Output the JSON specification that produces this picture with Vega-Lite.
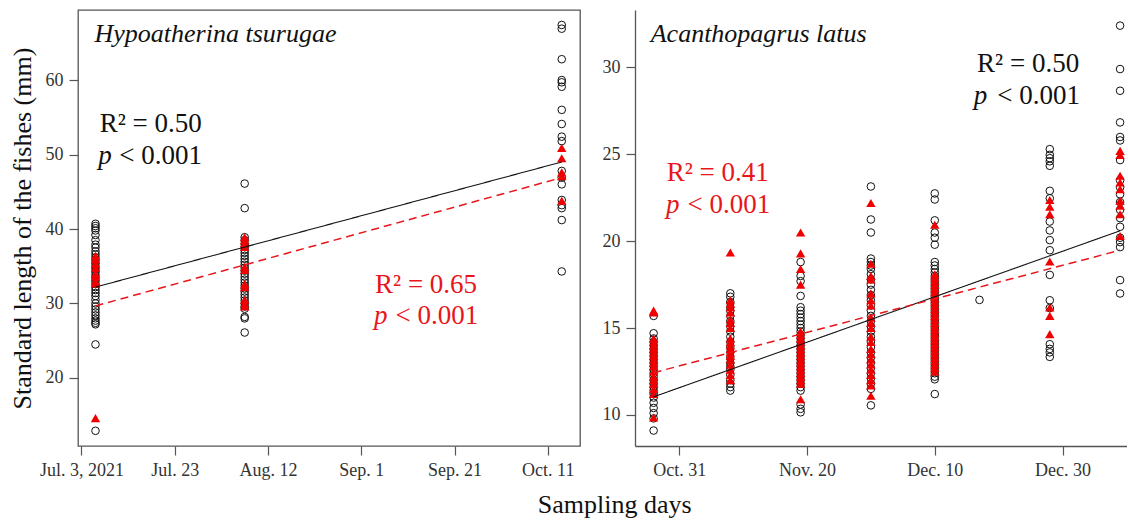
{
  "$schema": "https://vega.github.io/schema/vega-lite/v6.json",
  "background": "white",
  "padding": {"left": 8, "top": 9, "right": 0, "bottom": 0},
  "config": {
    "font": "Liberation Serif",
    "axis": {"grid": false, "labelFont": "Liberation Serif", "labelFontSize": 18, "labelColor": "#333333", "tickColor": "#555555", "tickSize": 9, "tickWidth": 1.2, "domainColor": "#555555", "domainWidth": 1.3, "labelPadding": 6, "titleFont": "Liberation Serif", "titleFontSize": 26, "titleFontWeight": "normal", "titleColor": "#111111"},
    "view": {"stroke": "#555555", "strokeWidth": 1.3}
  },
  "title": {"text": "Sampling days", "orient": "bottom", "anchor": "middle", "font": "Liberation Serif", "fontSize": 26, "fontWeight": "normal", "color": "#111111", "offset": 12, "dx": 47},
  "spacing": 55,
  "bounds": "flush",
  "resolve": {"scale": {"x": "independent", "y": "independent", "color": "shared"}},
  "hconcat": [
    {
      "width": 502,
      "height": 436,
      "encoding": {
        "x": {"field": "date", "type": "temporal", "title": null,
          "scale": {"domain": [{"year": 2021, "month": 7, "date": 2, "hours": 6}, {"year": 2021, "month": 10, "date": 17, "hours": 22}]},
          "axis": {"domain": false, "values": [{"year": 2021, "month": 7, "date": 3}, {"year": 2021, "month": 7, "date": 23}, {"year": 2021, "month": 8, "date": 12}, {"year": 2021, "month": 9, "date": 1}, {"year": 2021, "month": 9, "date": 21}, {"year": 2021, "month": 10, "date": 11}],
            "labelExpr": "datum.index == 0 ? timeFormat(datum.value, '%b. %-d, %Y') : timeFormat(datum.value, '%b. %-d')"}},
        "y": {"field": "length", "type": "quantitative", "title": "Standard length of the fishes (mm)",
          "scale": {"domain": [10.86, 69.41], "nice": false, "zero": false},
          "axis": {"domain": false, "values": [20, 30, 40, 50, 60], "titlePadding": 10}}
      },
      "layer": [
        {"data": {"name": "ptsH"}, "transform": [{"filter": "datum.group == 'all'"}],
          "mark": {"type": "point", "shape": "circle", "filled": false, "stroke": "#111111", "strokeWidth": 1, "size": 58, "opacity": 1}},
        {"data": {"name": "ptsH"}, "transform": [{"filter": "datum.group == 'subset'"}],
          "mark": {"type": "point", "shape": "triangle-up", "filled": true, "fill": "#f00000", "strokeWidth": 0, "size": 88, "opacity": 1}},
        {"data": {"name": "fitH"}, "mark": {"type": "line"},
          "encoding": {
            "color": {"field": "fit", "type": "nominal", "scale": {"domain": ["all", "subset"], "range": ["#111111", "#e8161b"]}, "legend": null},
            "strokeDash": {"field": "fit", "type": "nominal", "scale": {"domain": ["all", "subset"], "range": [[1, 0], [8, 5]]}, "legend": null},
            "strokeWidth": {"field": "fit", "type": "nominal", "scale": {"domain": ["all", "subset"], "range": [1.1, 1.5]}, "legend": null}}},
        {"data": {"name": "notesH"}, "transform": [{"filter": "datum.kind == 'species'"}],
          "mark": {"type": "text", "align": "left", "baseline": "alphabetic", "font": "Liberation Serif", "fontSize": 26, "fontStyle": "italic"},
          "encoding": {"text": {"field": "label"}, "color": {"field": "fit", "type": "nominal", "legend": null}}},
        {"data": {"name": "notesH"}, "transform": [{"filter": "datum.kind == 'stat'"}],
          "mark": {"type": "text", "align": "left", "baseline": "alphabetic", "font": "Liberation Serif", "fontSize": 27},
          "encoding": {"text": {"field": "label"}, "color": {"field": "fit", "type": "nominal", "legend": null}}},
        {"data": {"name": "notesH"}, "transform": [{"filter": "datum.kind == 'p'"}],
          "mark": {"type": "text", "align": "left", "baseline": "alphabetic", "font": "Liberation Serif", "fontSize": 27, "fontStyle": "italic"},
          "encoding": {"text": {"field": "label"}, "color": {"field": "fit", "type": "nominal", "legend": null}}}
      ]
    },
    {
      "width": 492,
      "height": 436,
      "view": {"stroke": null},
      "encoding": {
        "x": {"field": "date", "type": "temporal", "title": null,
          "scale": {"domain": [{"year": 2021, "month": 10, "date": 24, "hours": 2}, {"year": 2022, "month": 1, "date": 9, "hours": 2}]},
          "axis": {"domain": true, "values": [{"year": 2021, "month": 10, "date": 31}, {"year": 2021, "month": 11, "date": 20}, {"year": 2021, "month": 12, "date": 10}, {"year": 2021, "month": 12, "date": 30}],
            "labelExpr": "timeFormat(datum.value, '%b. %-d')"}},
        "y": {"field": "length", "type": "quantitative", "title": null,
          "scale": {"domain": [8.21, 33.31], "nice": false, "zero": false},
          "axis": {"domain": true, "values": [10, 15, 20, 25, 30]}}
      },
      "layer": [
        {"data": {"values": [{}]}, "mark": {"type": "rule", "color": "#555555", "strokeWidth": 1.3},
          "encoding": {
            "x": {"datum": {"year": 2021, "month": 10, "date": 24, "hours": 2}, "type": "temporal"},
            "x2": {"datum": {"year": 2022, "month": 1, "date": 9, "hours": 2}},
            "y": {"datum": 33.31, "type": "quantitative"}}},
        {"data": {"name": "ptsA"}, "transform": [{"filter": "datum.group == 'all'"}],
          "mark": {"type": "point", "shape": "circle", "filled": false, "stroke": "#111111", "strokeWidth": 1, "size": 58, "opacity": 1}},
        {"data": {"name": "ptsA"}, "transform": [{"filter": "datum.group == 'subset'"}],
          "mark": {"type": "point", "shape": "triangle-up", "filled": true, "fill": "#f00000", "strokeWidth": 0, "size": 88, "opacity": 1}},
        {"data": {"name": "fitA"}, "mark": {"type": "line"},
          "encoding": {
            "color": {"field": "fit", "type": "nominal", "scale": {"domain": ["all", "subset"], "range": ["#111111", "#e8161b"]}, "legend": null},
            "strokeDash": {"field": "fit", "type": "nominal", "scale": {"domain": ["all", "subset"], "range": [[1, 0], [8, 5]]}, "legend": null},
            "strokeWidth": {"field": "fit", "type": "nominal", "scale": {"domain": ["all", "subset"], "range": [1.1, 1.5]}, "legend": null}}},
        {"data": {"name": "notesA"}, "transform": [{"filter": "datum.kind == 'species'"}],
          "mark": {"type": "text", "align": "left", "baseline": "alphabetic", "font": "Liberation Serif", "fontSize": 26, "fontStyle": "italic"},
          "encoding": {"text": {"field": "label"}, "color": {"field": "fit", "type": "nominal", "legend": null}}},
        {"data": {"name": "notesA"}, "transform": [{"filter": "datum.kind == 'stat'"}],
          "mark": {"type": "text", "align": "left", "baseline": "alphabetic", "font": "Liberation Serif", "fontSize": 27},
          "encoding": {"text": {"field": "label"}, "color": {"field": "fit", "type": "nominal", "legend": null}}},
        {"data": {"name": "notesA"}, "transform": [{"filter": "datum.kind == 'p'"}],
          "mark": {"type": "text", "align": "left", "baseline": "alphabetic", "font": "Liberation Serif", "fontSize": 27, "fontStyle": "italic"},
          "encoding": {"text": {"field": "label"}, "color": {"field": "fit", "type": "nominal", "legend": null}}}
      ]
    }
  ],
  "datasets": {
    "fitH": [
      {"date": "2021/07/06", "length": 32.2, "fit": "all"},
      {"date": "2021/10/14", "length": 49.0, "fit": "all"},
      {"date": "2021/07/06", "length": 29.67, "fit": "subset"},
      {"date": "2021/10/14", "length": 46.9, "fit": "subset"}
    ],
    "fitA": [
      {"date": "2021/10/27", "length": 11.04, "fit": "all"},
      {"date": "2022/01/08", "length": 20.6, "fit": "all"},
      {"date": "2021/10/27", "length": 12.43, "fit": "subset"},
      {"date": "2022/01/08", "length": 19.48, "fit": "subset"}
    ],
    "notesH": [
      {"date": "2021/07/05 19:00", "length": 65.06, "label": "Hypoatherina tsurugae", "kind": "species", "fit": "all"},
      {"date": "2021/07/06 22:00", "length": 52.96, "label": "R² = 0.50", "kind": "stat", "fit": "all"},
      {"date": "2021/07/06 14:00", "length": 48.75, "label": "p", "kind": "p", "fit": "all"},
      {"date": "2021/07/11 02:00", "length": 48.75, "label": "< 0.001", "kind": "stat", "fit": "all"},
      {"date": "2021/09/03 23:00", "length": 31.45, "label": "R² = 0.65", "kind": "stat", "fit": "subset"},
      {"date": "2021/09/03 17:00", "length": 27.25, "label": "p", "kind": "p", "fit": "subset"},
      {"date": "2021/09/08 08:00", "length": 27.25, "label": "< 0.001", "kind": "stat", "fit": "subset"}
    ],
    "notesA": [
      {"date": "2021/10/26 13:00", "length": 31.44, "label": "Acanthopagrus latus", "kind": "species", "fit": "all"},
      {"date": "2021/12/16 15:00", "length": 29.72, "label": "R² = 0.50", "kind": "stat", "fit": "all"},
      {"date": "2021/12/16 02:00", "length": 27.91, "label": "p", "kind": "p", "fit": "all"},
      {"date": "2021/12/19 19:00", "length": 27.91, "label": "< 0.001", "kind": "stat", "fit": "all"},
      {"date": "2021/10/29 01:00", "length": 23.48, "label": "R² = 0.41", "kind": "stat", "fit": "subset"},
      {"date": "2021/10/28 22:00", "length": 21.65, "label": "p", "kind": "p", "fit": "subset"},
      {"date": "2021/11/01 07:00", "length": 21.65, "label": "< 0.001", "kind": "stat", "fit": "subset"}
    ],
    "ptsH": [
      {"date": "2021/07/06", "length": 40.7, "group": "all"}, {"date": "2021/07/06", "length": 40.4, "group": "all"}, {"date": "2021/07/06", "length": 40.1, "group": "all"}, {"date": "2021/07/06", "length": 39.8, "group": "all"}, {"date": "2021/07/06", "length": 39.2, "group": "all"}, {"date": "2021/07/06", "length": 38.5, "group": "all"}, {"date": "2021/07/06", "length": 37.9, "group": "all"}, {"date": "2021/07/06", "length": 37.5, "group": "all"}, {"date": "2021/07/06", "length": 37.0, "group": "all"}, {"date": "2021/07/06", "length": 36.6, "group": "all"}, {"date": "2021/07/06", "length": 36.2, "group": "all"}, {"date": "2021/07/06", "length": 35.8, "group": "all"}, {"date": "2021/07/06", "length": 35.4, "group": "all"}, {"date": "2021/07/06", "length": 35.0, "group": "all"}, {"date": "2021/07/06", "length": 34.6, "group": "all"}, {"date": "2021/07/06", "length": 34.2, "group": "all"}, {"date": "2021/07/06", "length": 33.8, "group": "all"}, {"date": "2021/07/06", "length": 33.4, "group": "all"}, {"date": "2021/07/06", "length": 33.0, "group": "all"}, {"date": "2021/07/06", "length": 32.6, "group": "all"}, {"date": "2021/07/06", "length": 32.2, "group": "all"}, {"date": "2021/07/06", "length": 31.8, "group": "all"}, {"date": "2021/07/06", "length": 31.4, "group": "all"}, {"date": "2021/07/06", "length": 31.0, "group": "all"}, {"date": "2021/07/06", "length": 30.5, "group": "all"}, {"date": "2021/07/06", "length": 30.0, "group": "all"}, {"date": "2021/07/06", "length": 29.6, "group": "all"}, {"date": "2021/07/06", "length": 29.2, "group": "all"}, {"date": "2021/07/06", "length": 28.8, "group": "all"}, {"date": "2021/07/06", "length": 28.4, "group": "all"}, {"date": "2021/07/06", "length": 28.0, "group": "all"}, {"date": "2021/07/06", "length": 27.7, "group": "all"}, {"date": "2021/07/06", "length": 27.4, "group": "all"}, {"date": "2021/07/06", "length": 27.2, "group": "all"}, {"date": "2021/07/06", "length": 24.5, "group": "all"}, {"date": "2021/07/06", "length": 12.9, "group": "all"},
      {"date": "2021/07/06", "length": 36.4, "group": "subset"}, {"date": "2021/07/06", "length": 35.9, "group": "subset"}, {"date": "2021/07/06", "length": 35.3, "group": "subset"}, {"date": "2021/07/06", "length": 34.8, "group": "subset"}, {"date": "2021/07/06", "length": 34.0, "group": "subset"}, {"date": "2021/07/06", "length": 33.6, "group": "subset"}, {"date": "2021/07/06", "length": 33.0, "group": "subset"}, {"date": "2021/07/06", "length": 32.7, "group": "subset"}, {"date": "2021/07/06", "length": 14.6, "group": "subset"},
      {"date": "2021/08/07", "length": 46.1, "group": "all"}, {"date": "2021/08/07", "length": 42.8, "group": "all"}, {"date": "2021/08/07", "length": 38.9, "group": "all"}, {"date": "2021/08/07", "length": 38.5, "group": "all"}, {"date": "2021/08/07", "length": 38.0, "group": "all"}, {"date": "2021/08/07", "length": 37.6, "group": "all"}, {"date": "2021/08/07", "length": 37.2, "group": "all"}, {"date": "2021/08/07", "length": 36.8, "group": "all"}, {"date": "2021/08/07", "length": 36.4, "group": "all"}, {"date": "2021/08/07", "length": 36.0, "group": "all"}, {"date": "2021/08/07", "length": 35.6, "group": "all"}, {"date": "2021/08/07", "length": 35.2, "group": "all"}, {"date": "2021/08/07", "length": 34.8, "group": "all"}, {"date": "2021/08/07", "length": 34.4, "group": "all"}, {"date": "2021/08/07", "length": 34.0, "group": "all"}, {"date": "2021/08/07", "length": 33.6, "group": "all"}, {"date": "2021/08/07", "length": 33.2, "group": "all"}, {"date": "2021/08/07", "length": 32.8, "group": "all"}, {"date": "2021/08/07", "length": 32.4, "group": "all"}, {"date": "2021/08/07", "length": 32.0, "group": "all"}, {"date": "2021/08/07", "length": 31.6, "group": "all"}, {"date": "2021/08/07", "length": 31.2, "group": "all"}, {"date": "2021/08/07", "length": 30.8, "group": "all"}, {"date": "2021/08/07", "length": 30.4, "group": "all"}, {"date": "2021/08/07", "length": 30.0, "group": "all"}, {"date": "2021/08/07", "length": 29.6, "group": "all"}, {"date": "2021/08/07", "length": 29.3, "group": "all"}, {"date": "2021/08/07", "length": 28.2, "group": "all"}, {"date": "2021/08/07", "length": 28.0, "group": "all"}, {"date": "2021/08/07", "length": 26.1, "group": "all"},
      {"date": "2021/08/07", "length": 38.9, "group": "subset"}, {"date": "2021/08/07", "length": 38.5, "group": "subset"}, {"date": "2021/08/07", "length": 38.1, "group": "subset"}, {"date": "2021/08/07", "length": 37.6, "group": "subset"}, {"date": "2021/08/07", "length": 34.9, "group": "subset"}, {"date": "2021/08/07", "length": 34.5, "group": "subset"}, {"date": "2021/08/07", "length": 32.6, "group": "subset"}, {"date": "2021/08/07", "length": 32.2, "group": "subset"}, {"date": "2021/08/07", "length": 30.5, "group": "subset"}, {"date": "2021/08/07", "length": 30.0, "group": "subset"}, {"date": "2021/08/07", "length": 29.6, "group": "subset"},
      {"date": "2021/10/14", "length": 67.4, "group": "all"}, {"date": "2021/10/14", "length": 66.9, "group": "all"}, {"date": "2021/10/14", "length": 62.8, "group": "all"}, {"date": "2021/10/14", "length": 60.0, "group": "all"}, {"date": "2021/10/14", "length": 59.7, "group": "all"}, {"date": "2021/10/14", "length": 59.1, "group": "all"}, {"date": "2021/10/14", "length": 56.0, "group": "all"}, {"date": "2021/10/14", "length": 54.1, "group": "all"}, {"date": "2021/10/14", "length": 52.4, "group": "all"}, {"date": "2021/10/14", "length": 51.8, "group": "all"}, {"date": "2021/10/14", "length": 47.8, "group": "all"}, {"date": "2021/10/14", "length": 46.9, "group": "all"}, {"date": "2021/10/14", "length": 46.0, "group": "all"}, {"date": "2021/10/14", "length": 43.9, "group": "all"}, {"date": "2021/10/14", "length": 43.2, "group": "all"}, {"date": "2021/10/14", "length": 42.8, "group": "all"}, {"date": "2021/10/14", "length": 41.2, "group": "all"}, {"date": "2021/10/14", "length": 34.3, "group": "all"},
      {"date": "2021/10/14", "length": 50.9, "group": "subset"}, {"date": "2021/10/14", "length": 49.5, "group": "subset"}, {"date": "2021/10/14", "length": 47.6, "group": "subset"}, {"date": "2021/10/14", "length": 47.1, "group": "subset"}, {"date": "2021/10/14", "length": 43.8, "group": "subset"}
    ],
    "ptsA": [
      {"date": "2021/10/27", "length": 15.7, "group": "all"}, {"date": "2021/10/27", "length": 14.7, "group": "all"}, {"date": "2021/10/27", "length": 14.4, "group": "all"}, {"date": "2021/10/27", "length": 14.2, "group": "all"}, {"date": "2021/10/27", "length": 14.0, "group": "all"}, {"date": "2021/10/27", "length": 13.8, "group": "all"}, {"date": "2021/10/27", "length": 13.6, "group": "all"}, {"date": "2021/10/27", "length": 13.4, "group": "all"}, {"date": "2021/10/27", "length": 13.2, "group": "all"}, {"date": "2021/10/27", "length": 13.0, "group": "all"}, {"date": "2021/10/27", "length": 12.8, "group": "all"}, {"date": "2021/10/27", "length": 12.6, "group": "all"}, {"date": "2021/10/27", "length": 12.4, "group": "all"}, {"date": "2021/10/27", "length": 12.2, "group": "all"}, {"date": "2021/10/27", "length": 12.0, "group": "all"}, {"date": "2021/10/27", "length": 11.8, "group": "all"}, {"date": "2021/10/27", "length": 11.6, "group": "all"}, {"date": "2021/10/27", "length": 11.4, "group": "all"}, {"date": "2021/10/27", "length": 11.2, "group": "all"}, {"date": "2021/10/27", "length": 11.0, "group": "all"}, {"date": "2021/10/27", "length": 10.7, "group": "all"}, {"date": "2021/10/27", "length": 10.4, "group": "all"}, {"date": "2021/10/27", "length": 10.1, "group": "all"}, {"date": "2021/10/27", "length": 9.8, "group": "all"}, {"date": "2021/10/27", "length": 9.1, "group": "all"},
      {"date": "2021/10/27", "length": 16.0, "group": "subset"}, {"date": "2021/10/27", "length": 15.9, "group": "subset"}, {"date": "2021/10/27", "length": 14.4, "group": "subset"}, {"date": "2021/10/27", "length": 14.2, "group": "subset"}, {"date": "2021/10/27", "length": 14.0, "group": "subset"}, {"date": "2021/10/27", "length": 13.8, "group": "subset"}, {"date": "2021/10/27", "length": 13.6, "group": "subset"}, {"date": "2021/10/27", "length": 13.4, "group": "subset"}, {"date": "2021/10/27", "length": 13.2, "group": "subset"}, {"date": "2021/10/27", "length": 13.0, "group": "subset"}, {"date": "2021/10/27", "length": 12.8, "group": "subset"}, {"date": "2021/10/27", "length": 12.5, "group": "subset"}, {"date": "2021/10/27", "length": 12.2, "group": "subset"}, {"date": "2021/10/27", "length": 12.0, "group": "subset"}, {"date": "2021/10/27", "length": 11.8, "group": "subset"}, {"date": "2021/10/27", "length": 11.5, "group": "subset"}, {"date": "2021/10/27", "length": 11.2, "group": "subset"}, {"date": "2021/10/27", "length": 9.85, "group": "subset"},
      {"date": "2021/11/08", "length": 17.0, "group": "all"}, {"date": "2021/11/08", "length": 16.8, "group": "all"}, {"date": "2021/11/08", "length": 16.5, "group": "all"}, {"date": "2021/11/08", "length": 16.2, "group": "all"}, {"date": "2021/11/08", "length": 16.0, "group": "all"}, {"date": "2021/11/08", "length": 15.7, "group": "all"}, {"date": "2021/11/08", "length": 15.4, "group": "all"}, {"date": "2021/11/08", "length": 15.1, "group": "all"}, {"date": "2021/11/08", "length": 14.8, "group": "all"}, {"date": "2021/11/08", "length": 14.5, "group": "all"}, {"date": "2021/11/08", "length": 14.2, "group": "all"}, {"date": "2021/11/08", "length": 13.9, "group": "all"}, {"date": "2021/11/08", "length": 13.6, "group": "all"}, {"date": "2021/11/08", "length": 13.3, "group": "all"}, {"date": "2021/11/08", "length": 13.0, "group": "all"}, {"date": "2021/11/08", "length": 12.8, "group": "all"}, {"date": "2021/11/08", "length": 12.6, "group": "all"}, {"date": "2021/11/08", "length": 12.3, "group": "all"}, {"date": "2021/11/08", "length": 12.0, "group": "all"}, {"date": "2021/11/08", "length": 11.8, "group": "all"}, {"date": "2021/11/08", "length": 11.6, "group": "all"}, {"date": "2021/11/08", "length": 11.4, "group": "all"},
      {"date": "2021/11/08", "length": 19.35, "group": "subset"}, {"date": "2021/11/08", "length": 16.6, "group": "subset"}, {"date": "2021/11/08", "length": 16.4, "group": "subset"}, {"date": "2021/11/08", "length": 16.2, "group": "subset"}, {"date": "2021/11/08", "length": 15.9, "group": "subset"}, {"date": "2021/11/08", "length": 15.5, "group": "subset"}, {"date": "2021/11/08", "length": 15.3, "group": "subset"}, {"date": "2021/11/08", "length": 15.0, "group": "subset"}, {"date": "2021/11/08", "length": 14.4, "group": "subset"}, {"date": "2021/11/08", "length": 14.2, "group": "subset"}, {"date": "2021/11/08", "length": 14.0, "group": "subset"}, {"date": "2021/11/08", "length": 13.8, "group": "subset"}, {"date": "2021/11/08", "length": 13.6, "group": "subset"}, {"date": "2021/11/08", "length": 13.4, "group": "subset"}, {"date": "2021/11/08", "length": 13.2, "group": "subset"}, {"date": "2021/11/08", "length": 12.9, "group": "subset"}, {"date": "2021/11/08", "length": 12.6, "group": "subset"}, {"date": "2021/11/08", "length": 12.3, "group": "subset"}, {"date": "2021/11/08", "length": 12.0, "group": "subset"},
      {"date": "2021/11/19", "length": 18.8, "group": "all"}, {"date": "2021/11/19", "length": 18.0, "group": "all"}, {"date": "2021/11/19", "length": 17.7, "group": "all"}, {"date": "2021/11/19", "length": 16.85, "group": "all"}, {"date": "2021/11/19", "length": 16.2, "group": "all"}, {"date": "2021/11/19", "length": 16.0, "group": "all"}, {"date": "2021/11/19", "length": 15.8, "group": "all"}, {"date": "2021/11/19", "length": 15.6, "group": "all"}, {"date": "2021/11/19", "length": 15.4, "group": "all"}, {"date": "2021/11/19", "length": 15.2, "group": "all"}, {"date": "2021/11/19", "length": 15.0, "group": "all"}, {"date": "2021/11/19", "length": 14.8, "group": "all"}, {"date": "2021/11/19", "length": 14.6, "group": "all"}, {"date": "2021/11/19", "length": 14.4, "group": "all"}, {"date": "2021/11/19", "length": 14.2, "group": "all"}, {"date": "2021/11/19", "length": 14.0, "group": "all"}, {"date": "2021/11/19", "length": 13.8, "group": "all"}, {"date": "2021/11/19", "length": 13.6, "group": "all"}, {"date": "2021/11/19", "length": 13.4, "group": "all"}, {"date": "2021/11/19", "length": 13.2, "group": "all"}, {"date": "2021/11/19", "length": 13.0, "group": "all"}, {"date": "2021/11/19", "length": 12.8, "group": "all"}, {"date": "2021/11/19", "length": 12.6, "group": "all"}, {"date": "2021/11/19", "length": 12.4, "group": "all"}, {"date": "2021/11/19", "length": 12.2, "group": "all"}, {"date": "2021/11/19", "length": 12.0, "group": "all"}, {"date": "2021/11/19", "length": 11.8, "group": "all"}, {"date": "2021/11/19", "length": 11.6, "group": "all"}, {"date": "2021/11/19", "length": 11.4, "group": "all"}, {"date": "2021/11/19", "length": 10.6, "group": "all"}, {"date": "2021/11/19", "length": 10.35, "group": "all"}, {"date": "2021/11/19", "length": 10.15, "group": "all"},
      {"date": "2021/11/19", "length": 20.5, "group": "subset"}, {"date": "2021/11/19", "length": 19.3, "group": "subset"}, {"date": "2021/11/19", "length": 18.4, "group": "subset"}, {"date": "2021/11/19", "length": 17.5, "group": "subset"}, {"date": "2021/11/19", "length": 14.8, "group": "subset"}, {"date": "2021/11/19", "length": 14.6, "group": "subset"}, {"date": "2021/11/19", "length": 14.4, "group": "subset"}, {"date": "2021/11/19", "length": 14.2, "group": "subset"}, {"date": "2021/11/19", "length": 14.0, "group": "subset"}, {"date": "2021/11/19", "length": 13.8, "group": "subset"}, {"date": "2021/11/19", "length": 13.6, "group": "subset"}, {"date": "2021/11/19", "length": 13.4, "group": "subset"}, {"date": "2021/11/19", "length": 13.2, "group": "subset"}, {"date": "2021/11/19", "length": 13.0, "group": "subset"}, {"date": "2021/11/19", "length": 12.8, "group": "subset"}, {"date": "2021/11/19", "length": 12.6, "group": "subset"}, {"date": "2021/11/19", "length": 12.4, "group": "subset"}, {"date": "2021/11/19", "length": 12.2, "group": "subset"}, {"date": "2021/11/19", "length": 12.0, "group": "subset"}, {"date": "2021/11/19", "length": 11.8, "group": "subset"}, {"date": "2021/11/19", "length": 10.9, "group": "subset"},
      {"date": "2021/11/30", "length": 23.15, "group": "all"}, {"date": "2021/11/30", "length": 21.25, "group": "all"}, {"date": "2021/11/30", "length": 20.5, "group": "all"}, {"date": "2021/11/30", "length": 19.0, "group": "all"}, {"date": "2021/11/30", "length": 18.8, "group": "all"}, {"date": "2021/11/30", "length": 18.6, "group": "all"}, {"date": "2021/11/30", "length": 18.4, "group": "all"}, {"date": "2021/11/30", "length": 18.1, "group": "all"}, {"date": "2021/11/30", "length": 17.8, "group": "all"}, {"date": "2021/11/30", "length": 17.5, "group": "all"}, {"date": "2021/11/30", "length": 17.2, "group": "all"}, {"date": "2021/11/30", "length": 16.9, "group": "all"}, {"date": "2021/11/30", "length": 16.6, "group": "all"}, {"date": "2021/11/30", "length": 16.3, "group": "all"}, {"date": "2021/11/30", "length": 16.0, "group": "all"}, {"date": "2021/11/30", "length": 15.7, "group": "all"}, {"date": "2021/11/30", "length": 15.4, "group": "all"}, {"date": "2021/11/30", "length": 15.1, "group": "all"}, {"date": "2021/11/30", "length": 14.8, "group": "all"}, {"date": "2021/11/30", "length": 14.5, "group": "all"}, {"date": "2021/11/30", "length": 14.2, "group": "all"}, {"date": "2021/11/30", "length": 13.9, "group": "all"}, {"date": "2021/11/30", "length": 13.6, "group": "all"}, {"date": "2021/11/30", "length": 13.3, "group": "all"}, {"date": "2021/11/30", "length": 13.0, "group": "all"}, {"date": "2021/11/30", "length": 12.7, "group": "all"}, {"date": "2021/11/30", "length": 12.4, "group": "all"}, {"date": "2021/11/30", "length": 12.1, "group": "all"}, {"date": "2021/11/30", "length": 11.8, "group": "all"}, {"date": "2021/11/30", "length": 11.5, "group": "all"}, {"date": "2021/11/30", "length": 10.55, "group": "all"},
      {"date": "2021/11/30", "length": 22.2, "group": "subset"}, {"date": "2021/11/30", "length": 18.7, "group": "subset"}, {"date": "2021/11/30", "length": 18.0, "group": "subset"}, {"date": "2021/11/30", "length": 17.8, "group": "subset"}, {"date": "2021/11/30", "length": 17.0, "group": "subset"}, {"date": "2021/11/30", "length": 16.6, "group": "subset"}, {"date": "2021/11/30", "length": 16.3, "group": "subset"}, {"date": "2021/11/30", "length": 15.6, "group": "subset"}, {"date": "2021/11/30", "length": 15.3, "group": "subset"}, {"date": "2021/11/30", "length": 15.0, "group": "subset"}, {"date": "2021/11/30", "length": 14.5, "group": "subset"}, {"date": "2021/11/30", "length": 14.2, "group": "subset"}, {"date": "2021/11/30", "length": 13.8, "group": "subset"}, {"date": "2021/11/30", "length": 13.5, "group": "subset"}, {"date": "2021/11/30", "length": 13.2, "group": "subset"}, {"date": "2021/11/30", "length": 12.9, "group": "subset"}, {"date": "2021/11/30", "length": 12.6, "group": "subset"}, {"date": "2021/11/30", "length": 12.3, "group": "subset"}, {"date": "2021/11/30", "length": 12.0, "group": "subset"}, {"date": "2021/11/30", "length": 11.7, "group": "subset"}, {"date": "2021/11/30", "length": 11.1, "group": "subset"},
      {"date": "2021/12/10", "length": 22.75, "group": "all"}, {"date": "2021/12/10", "length": 22.4, "group": "all"}, {"date": "2021/12/10", "length": 21.2, "group": "all"}, {"date": "2021/12/10", "length": 20.5, "group": "all"}, {"date": "2021/12/10", "length": 20.2, "group": "all"}, {"date": "2021/12/10", "length": 19.8, "group": "all"}, {"date": "2021/12/10", "length": 18.8, "group": "all"}, {"date": "2021/12/10", "length": 18.6, "group": "all"}, {"date": "2021/12/10", "length": 18.4, "group": "all"}, {"date": "2021/12/10", "length": 18.2, "group": "all"}, {"date": "2021/12/10", "length": 18.0, "group": "all"}, {"date": "2021/12/10", "length": 17.8, "group": "all"}, {"date": "2021/12/10", "length": 17.6, "group": "all"}, {"date": "2021/12/10", "length": 17.4, "group": "all"}, {"date": "2021/12/10", "length": 17.2, "group": "all"}, {"date": "2021/12/10", "length": 17.0, "group": "all"}, {"date": "2021/12/10", "length": 16.8, "group": "all"}, {"date": "2021/12/10", "length": 16.6, "group": "all"}, {"date": "2021/12/10", "length": 16.4, "group": "all"}, {"date": "2021/12/10", "length": 16.2, "group": "all"}, {"date": "2021/12/10", "length": 16.0, "group": "all"}, {"date": "2021/12/10", "length": 15.8, "group": "all"}, {"date": "2021/12/10", "length": 15.6, "group": "all"}, {"date": "2021/12/10", "length": 15.4, "group": "all"}, {"date": "2021/12/10", "length": 15.2, "group": "all"}, {"date": "2021/12/10", "length": 15.0, "group": "all"}, {"date": "2021/12/10", "length": 14.8, "group": "all"}, {"date": "2021/12/10", "length": 14.6, "group": "all"}, {"date": "2021/12/10", "length": 14.4, "group": "all"}, {"date": "2021/12/10", "length": 14.2, "group": "all"}, {"date": "2021/12/10", "length": 14.0, "group": "all"}, {"date": "2021/12/10", "length": 13.8, "group": "all"}, {"date": "2021/12/10", "length": 13.6, "group": "all"}, {"date": "2021/12/10", "length": 13.4, "group": "all"}, {"date": "2021/12/10", "length": 13.2, "group": "all"}, {"date": "2021/12/10", "length": 13.0, "group": "all"}, {"date": "2021/12/10", "length": 12.8, "group": "all"}, {"date": "2021/12/10", "length": 12.6, "group": "all"}, {"date": "2021/12/10", "length": 12.4, "group": "all"}, {"date": "2021/12/10", "length": 12.2, "group": "all"}, {"date": "2021/12/10", "length": 12.05, "group": "all"}, {"date": "2021/12/10", "length": 11.2, "group": "all"},
      {"date": "2021/12/10", "length": 20.95, "group": "subset"}, {"date": "2021/12/10", "length": 18.1, "group": "subset"}, {"date": "2021/12/10", "length": 17.9, "group": "subset"}, {"date": "2021/12/10", "length": 17.7, "group": "subset"}, {"date": "2021/12/10", "length": 17.5, "group": "subset"}, {"date": "2021/12/10", "length": 17.3, "group": "subset"}, {"date": "2021/12/10", "length": 17.1, "group": "subset"}, {"date": "2021/12/10", "length": 16.9, "group": "subset"}, {"date": "2021/12/10", "length": 16.7, "group": "subset"}, {"date": "2021/12/10", "length": 16.5, "group": "subset"}, {"date": "2021/12/10", "length": 16.3, "group": "subset"}, {"date": "2021/12/10", "length": 16.1, "group": "subset"}, {"date": "2021/12/10", "length": 15.9, "group": "subset"}, {"date": "2021/12/10", "length": 15.7, "group": "subset"}, {"date": "2021/12/10", "length": 15.5, "group": "subset"}, {"date": "2021/12/10", "length": 15.3, "group": "subset"}, {"date": "2021/12/10", "length": 15.1, "group": "subset"}, {"date": "2021/12/10", "length": 14.9, "group": "subset"}, {"date": "2021/12/10", "length": 14.7, "group": "subset"}, {"date": "2021/12/10", "length": 14.5, "group": "subset"}, {"date": "2021/12/10", "length": 14.3, "group": "subset"}, {"date": "2021/12/10", "length": 14.1, "group": "subset"}, {"date": "2021/12/10", "length": 13.9, "group": "subset"}, {"date": "2021/12/10", "length": 13.7, "group": "subset"}, {"date": "2021/12/10", "length": 13.5, "group": "subset"}, {"date": "2021/12/10", "length": 13.3, "group": "subset"}, {"date": "2021/12/10", "length": 13.1, "group": "subset"}, {"date": "2021/12/10", "length": 12.9, "group": "subset"}, {"date": "2021/12/10", "length": 12.7, "group": "subset"}, {"date": "2021/12/10", "length": 12.5, "group": "subset"},
      {"date": "2021/12/17", "length": 16.62, "group": "all"},
      {"date": "2021/12/28", "length": 25.3, "group": "all"}, {"date": "2021/12/28", "length": 24.97, "group": "all"}, {"date": "2021/12/28", "length": 24.78, "group": "all"}, {"date": "2021/12/28", "length": 24.6, "group": "all"}, {"date": "2021/12/28", "length": 24.34, "group": "all"}, {"date": "2021/12/28", "length": 22.9, "group": "all"}, {"date": "2021/12/28", "length": 22.47, "group": "all"}, {"date": "2021/12/28", "length": 21.13, "group": "all"}, {"date": "2021/12/28", "length": 20.62, "group": "all"}, {"date": "2021/12/28", "length": 20.06, "group": "all"}, {"date": "2021/12/28", "length": 19.48, "group": "all"}, {"date": "2021/12/28", "length": 18.06, "group": "all"}, {"date": "2021/12/28", "length": 16.6, "group": "all"}, {"date": "2021/12/28", "length": 16.15, "group": "all"}, {"date": "2021/12/28", "length": 14.07, "group": "all"}, {"date": "2021/12/28", "length": 13.8, "group": "all"}, {"date": "2021/12/28", "length": 13.6, "group": "all"}, {"date": "2021/12/28", "length": 13.34, "group": "all"},
      {"date": "2021/12/28", "length": 22.37, "group": "subset"}, {"date": "2021/12/28", "length": 21.98, "group": "subset"}, {"date": "2021/12/28", "length": 21.55, "group": "subset"}, {"date": "2021/12/28", "length": 18.83, "group": "subset"}, {"date": "2021/12/28", "length": 16.18, "group": "subset"}, {"date": "2021/12/28", "length": 15.7, "group": "subset"}, {"date": "2021/12/28", "length": 14.65, "group": "subset"},
      {"date": "2022/01/08", "length": 32.41, "group": "all"}, {"date": "2022/01/08", "length": 29.91, "group": "all"}, {"date": "2022/01/08", "length": 28.66, "group": "all"}, {"date": "2022/01/08", "length": 26.84, "group": "all"}, {"date": "2022/01/08", "length": 26.0, "group": "all"}, {"date": "2022/01/08", "length": 25.8, "group": "all"}, {"date": "2022/01/08", "length": 24.67, "group": "all"}, {"date": "2022/01/08", "length": 23.5, "group": "all"}, {"date": "2022/01/08", "length": 23.1, "group": "all"}, {"date": "2022/01/08", "length": 22.7, "group": "all"}, {"date": "2022/01/08", "length": 22.25, "group": "all"}, {"date": "2022/01/08", "length": 21.8, "group": "all"}, {"date": "2022/01/08", "length": 21.33, "group": "all"}, {"date": "2022/01/08", "length": 20.83, "group": "all"}, {"date": "2022/01/08", "length": 20.2, "group": "all"}, {"date": "2022/01/08", "length": 19.95, "group": "all"}, {"date": "2022/01/08", "length": 19.66, "group": "all"}, {"date": "2022/01/08", "length": 17.76, "group": "all"}, {"date": "2022/01/08", "length": 16.99, "group": "all"},
      {"date": "2022/01/08", "length": 25.2, "group": "subset"}, {"date": "2022/01/08", "length": 24.97, "group": "subset"}, {"date": "2022/01/08", "length": 23.77, "group": "subset"}, {"date": "2022/01/08", "length": 23.38, "group": "subset"}, {"date": "2022/01/08", "length": 23.0, "group": "subset"}, {"date": "2022/01/08", "length": 22.33, "group": "subset"}, {"date": "2022/01/08", "length": 22.04, "group": "subset"}, {"date": "2022/01/08", "length": 21.55, "group": "subset"}, {"date": "2022/01/08", "length": 20.3, "group": "subset"}
    ]
  }
}
